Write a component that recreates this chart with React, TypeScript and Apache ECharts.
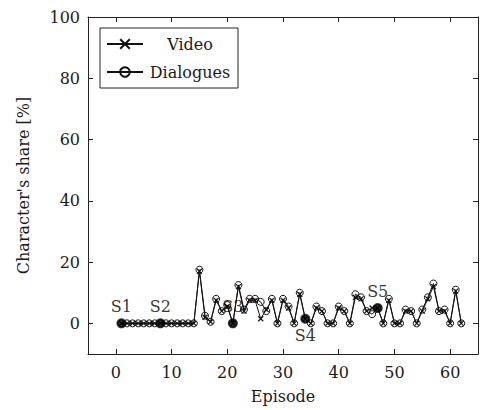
import React, { useEffect, useRef } from "react";
import * as echarts from "echarts";

const episodes: number[] = Array.from({ length: 62 }, (_, i) => i + 1);

const dialogues: number[] = [
  0, 0, 0, 0, 0, 0, 0, 0, 0, 0, 0, 0, 0, 0,
  17.5, 2.5, 0.5, 8, 4, 6, 0, 12.5, 4.5, 8, 8, 7, 4, 8, 0, 8,
  5.5, 0, 10, 1.5, 0, 5.5, 4, 0, 0, 5.5, 4, 0, 9.5, 8.5, 4, 3,
  5, 0, 8, 0, 0, 4.5, 4, 0, 4.5, 8.5, 13, 4, 4.5, 0, 11, 0,
];

const video: number[] = [
  0, 0, 0, 0, 0, 0, 0, 0, 0, 0, 0, 0, 0, 0,
  17, 2, 0.5, 7.5, 4, 5.5, 0, 12, 4, 7.5, 7.5, 1.5, 4.5, 7.5, 0, 7.5,
  5, 0, 9.5, 1.5, 0, 5, 4, 0, 0, 5, 4, 0, 8.5, 8, 4, 5,
  5, 0, 7.5, 0, 0, 4, 4, 0, 4, 8, 12, 4, 4, 0, 10.5, 0,
];

const seasonNames: string[] = ["S1", "S2", "S3", "S4", "S5"];
const seasonEpisodes: number[] = [1, 8, 21, 34, 47];
const seasonValues: number[] = [0, 0, 0, 1.5, 5];
const seasonLabelPos: string[] = ["top", "top", "top", "bottom", "top"];

const xTicks: number[] = [0, 10, 20, 30, 40, 50, 60];
const yTicks: number[] = [0, 20, 40, 60, 80, 100];

const FONT = "DejaVu Serif";
const FS = 16;
const TXT = "#1a1a1a";

export default function App() {
  const ref = useRef<HTMLDivElement>(null);
  useEffect(() => {
    if (!ref.current) return;
    const chart = echarts.init(ref.current, undefined, { renderer: "svg" });
    const axisLine = { show: true, onZero: false, lineStyle: { color: "#222", width: 1 } };
    const tickStyle = { color: "#222", width: 1 };
    chart.setOption({
      animation: false,
      backgroundColor: "#fff",
      grid: { left: 88, top: 17, right: 11, bottom: 56 },
      legend: {
        data: ["Video", "Dialogues"],
        orient: "vertical",
        left: 100,
        top: 28,
        backgroundColor: "#fff",
        borderColor: "#222",
        borderWidth: 1,
        borderRadius: 0,
        padding: [6, 6, 6, 6],
        itemWidth: 36,
        itemHeight: 12,
        itemGap: 8,
        textStyle: {
          fontFamily: FONT,
          fontSize: FS,
          color: TXT,
          lineHeight: 20,
          rich: { c: { width: 84, align: "center", fontFamily: FONT, fontSize: FS, color: TXT } },
        },
        formatter: (name: string) => `{c|${name}}`,
      },
      xAxis: [
        {
          type: "value",
          min: -5,
          max: 65,
          position: "bottom",
          name: "Episode",
          nameLocation: "middle",
          nameGap: 34,
          nameTextStyle: { fontFamily: FONT, fontSize: FS, color: TXT },
          axisLine,
          axisTick: { show: true, inside: true, length: 5, lineStyle: tickStyle, customValues: xTicks },
          axisLabel: { fontFamily: FONT, fontSize: FS, color: TXT, margin: 10, customValues: xTicks },
          splitLine: { show: false },
        },
        {
          type: "value",
          min: -5,
          max: 65,
          position: "top",
          axisLine,
          axisTick: { show: true, inside: true, length: 5, lineStyle: tickStyle, customValues: xTicks },
          axisLabel: { show: false },
          splitLine: { show: false },
        },
      ],
      yAxis: [
        {
          type: "value",
          min: -10,
          max: 100,
          position: "left",
          name: "Character's share [%]",
          nameLocation: "middle",
          nameGap: 57,
          nameTextStyle: { fontFamily: FONT, fontSize: FS, color: TXT },
          axisLine,
          axisTick: { show: true, inside: true, length: 5, lineStyle: tickStyle, customValues: yTicks },
          axisLabel: { fontFamily: FONT, fontSize: FS, color: TXT, margin: 8, customValues: yTicks },
          splitLine: { show: false },
        },
        {
          type: "value",
          min: -10,
          max: 100,
          position: "right",
          axisLine,
          axisTick: { show: true, inside: true, length: 5, lineStyle: tickStyle, customValues: yTicks },
          axisLabel: { show: false },
          splitLine: { show: false },
        },
      ],
      series: [
        {
          name: "Video",
          type: "line",
          data: episodes.map((e, i) => [e, video[i]]),
          symbol: "path://M0,0L10,10M10,0L0,10",
          symbolSize: 5,
          showAllSymbol: true,
          lineStyle: { color: "#111", width: 1 },
          itemStyle: { color: "#111", borderColor: "#111", borderWidth: 1.2 },
          z: 3,
        },
        {
          name: "Dialogues",
          type: "line",
          data: episodes.map((e, i) => [e, dialogues[i]]),
          symbol: "circle",
          symbolSize: 7,
          showAllSymbol: true,
          lineStyle: { color: "#111", width: 1 },
          itemStyle: { color: "rgba(0,0,0,0)", borderColor: "#111", borderWidth: 1 },
          z: 2,
        },
        {
          name: "Seasons",
          type: "scatter",
          data: seasonEpisodes.map((e, i) => ({
            value: [e, seasonValues[i]],
            name: seasonNames[i],
            label: { position: seasonLabelPos[i] },
          })),
          symbol: "circle",
          symbolSize: 10,
          itemStyle: { color: "#000" },
          label: {
            show: true,
            formatter: (p: any) => p.name,
            fontFamily: FONT,
            fontSize: FS,
            color: "#000",
            distance: 4,
          },
          z: 4,
        },
      ],
    });
    return () => chart.dispose();
  }, []);
  return (
    <div
      ref={ref}
      style={{ position: "absolute", left: 0, top: 0, width: 489, height: 410 }}
    />
  );
}
